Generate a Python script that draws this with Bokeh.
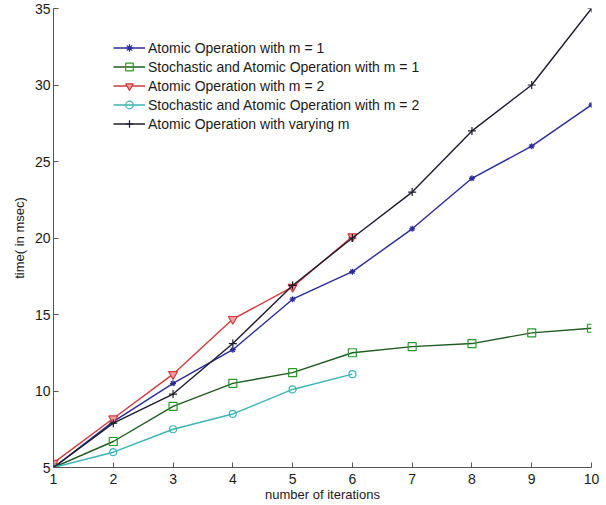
from bokeh.plotting import figure
from bokeh.embed import file_html
from bokeh.resources import INLINE
from bokeh.models import Range1d, FixedTicker, Legend

iterations = [1, 2, 3, 4, 5, 6, 7, 8, 9, 10]
atomic_m1 = [5.0, 8.0, 10.5, 12.7, 16.0, 17.8, 20.6, 23.9, 26.0, 28.7]
stoch_m1 = [5.0, 6.7, 9.0, 10.5, 11.2, 12.5, 12.9, 13.1, 13.8, 14.1]
iter_m2 = [1, 2, 3, 4, 5, 6]
atomic_m2 = [5.3, 8.2, 11.1, 14.7, 16.8, 20.1]
stoch_m2 = [5.0, 6.0, 7.5, 8.5, 10.1, 11.1]
varying_m = [5.0, 7.9, 9.8, 13.1, 16.9, 20.0, 23.0, 27.0, 30.0, 35.0]

x_ticks = [1, 2, 3, 4, 5, 6, 7, 8, 9, 10]
y_ticks = [5, 10, 15, 20, 25, 30, 35]

labels = [
    "Atomic Operation with m = 1",
    "Stochastic and Atomic Operation with m = 1",
    "Atomic Operation with m = 2",
    "Stochastic and Atomic Operation with m = 2",
    "Atomic Operation with varying m",
]

FONT = "Liberation Sans"

p = figure(width=600, height=505, output_backend="svg", toolbar_location=None,
           x_range=Range1d(1, 10), y_range=Range1d(5, 35),
           min_border_left=53, min_border_right=9, min_border_top=8, min_border_bottom=38)
p.outline_line_color = None
p.grid.visible = False
p.background_fill_color = "white"

series = [
    (iterations, atomic_m1, "#2b2b9a", "#2b2b9a", "asterisk", 6, labels[0], None),
    (iterations, stoch_m1, "#1f5a1f", "#2a9a2a", "square", 8, labels[1], None),
    (iter_m2, atomic_m2, "#d23a3a", "#d23a3a", "inverted_triangle", 9, labels[2], "#f0a0a0"),
    (iter_m2, stoch_m2, "#3bb5b5", "#3bb5b5", "circle", 7, labels[3], None),
    (iterations, varying_m, "#1c1c30", "#1c1c30", "cross", 8, labels[4], None),
]

items = []
for xs, ys, lc, mc, mk, sz, lab, fill in series:
    r1 = p.line(xs, ys, line_color=lc, line_width=1.4)
    r2 = p.scatter(xs, ys, marker=mk, size=sz, line_color=mc, line_width=1.2,
                   fill_color=fill if fill else None)
    items.append((lab, [r1, r2]))

legend = Legend(items=items, location=(60, 334))
legend.border_line_color = None
legend.background_fill_alpha = 0.0
legend.padding = 4
legend.spacing = 0
legend.margin = 0
legend.glyph_width = 32
legend.glyph_height = 19
legend.label_height = 19
legend.label_standoff = 3
legend.label_text_font = FONT
legend.label_text_font_size = "14px"
legend.label_text_color = "#1a1a1a"
p.add_layout(legend)

for ax in (p.xaxis, p.yaxis):
    ax.axis_line_color = "#555555"
    ax.major_tick_line_color = "#555555"
    ax.major_tick_in = 5
    ax.major_tick_out = 0
    ax.minor_tick_line_color = None
    ax.major_label_text_font = FONT
    ax.major_label_text_font_size = "14px"
    ax.major_label_text_color = "#1a1a1a"
    ax.axis_label_text_font = FONT
    ax.axis_label_text_font_size = "13px"
    ax.axis_label_text_font_style = "normal"
    ax.axis_label_text_color = "#1a1a1a"

p.xaxis.ticker = FixedTicker(ticks=x_ticks)
p.yaxis.ticker = FixedTicker(ticks=y_ticks)
p.xaxis.axis_label = "number of iterations"
p.yaxis.axis_label = "time( in msec)"
p.xaxis.major_label_standoff = 6
p.xaxis.axis_label_standoff = 0
p.yaxis.major_label_standoff = 3
p.yaxis.axis_label_standoff = 5

open("out.html", "w").write(file_html(p, INLINE))
